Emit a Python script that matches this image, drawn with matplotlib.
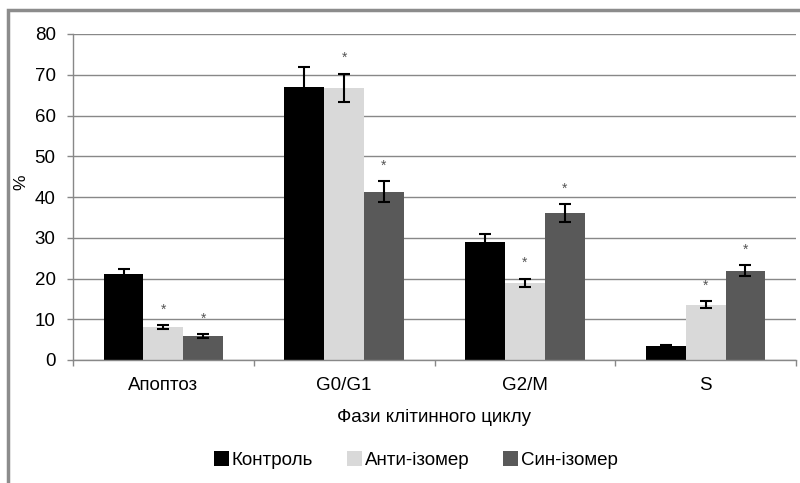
import numpy as np
import matplotlib.pyplot as plt
from matplotlib.patches import Patch, Rectangle

plt.rcParams['font.family'] = ['Liberation Sans', 'DejaVu Sans']

categories = ['Апоптоз', 'G0/G1', 'G2/M', 'S']
series_names = ['Контроль', 'Анти-ізомер', 'Син-ізомер']
control = [21.0, 67.1, 28.9, 3.4]
anti = [8.1, 66.8, 19.0, 13.6]
syn = [5.9, 41.3, 36.1, 21.9]
control_err = [1.4, 4.9, 2.0, 0.3]
anti_err = [0.5, 3.5, 1.0, 0.8]
syn_err = [0.5, 2.6, 2.2, 1.35]
# значущі відмінності від контролю
anti_star = [True, True, True, True]
syn_star = [True, True, True, True]

colors = ['#000000', '#d9d9d9', '#595959']
grid_c = '#888888'
fs = 13.5

fig = plt.figure(figsize=(8, 4.83), dpi=100)
ax = fig.add_axes([73/800, 1 - 360/483, (796 - 73)/800, (360 - 34)/483])

x = np.arange(len(categories)) + 0.5
w = 0.22
all_vals = [control, anti, syn]
all_err = [control_err, anti_err, syn_err]
all_star = [None, anti_star, syn_star]

for i in range(3):
    xs = x + (i - 1) * w
    ax.bar(xs, all_vals[i], width=w, color=colors[i], zorder=2)
    ax.errorbar(xs, all_vals[i], yerr=all_err[i], fmt='none', ecolor='black',
                elinewidth=1.5, capsize=4, capthick=1.5, zorder=3)
    if all_star[i] is not None:
        for j in range(len(categories)):
            if all_star[i][j]:
                ax.annotate('*', (xs[j], all_vals[i][j] + all_err[i][j]),
                            xytext=(0, 6), textcoords='offset points',
                            ha='center', va='bottom', fontsize=10, color='#555555')

ax.set_xlim(0, 4)
ax.set_ylim(0, 80)
ax.set_yticks(range(0, 81, 10))
ax.yaxis.grid(True, color=grid_c, linewidth=1)
ax.set_axisbelow(True)
ax.set_xticks(range(0, 5))
ax.set_xticklabels([])
ax.set_xticks(x, minor=True)
ax.set_xticklabels(categories, minor=True)
ax.tick_params(axis='x', which='minor', length=0, labelsize=fs, pad=12)
ax.tick_params(axis='x', which='major', length=4.5, color=grid_c, width=1)
ax.tick_params(axis='y', length=4.5, color=grid_c, width=1, labelsize=fs, pad=8)
for s in ['top', 'right']:
    ax.spines[s].set_visible(False)
for s in ['left', 'bottom']:
    ax.spines[s].set_color(grid_c)
    ax.spines[s].set_linewidth(1)

fig.text(21/800, 1 - 182/483, '%', rotation=90, fontsize=fs - 1, ha='center', va='center')
fig.text(434/800, 1 - 417/483, 'Фази клітинного циклу', fontsize=fs, ha='center', va='center')

handles = [Patch(facecolor=c, edgecolor='none') for c in colors]
fig.legend(handles, series_names, loc='center', bbox_to_anchor=(416/800, 1 - 460/483),
           ncol=3, frameon=False, fontsize=fs, handlelength=0.8, handleheight=0.8,
           handletextpad=0.15, columnspacing=1.8)

fig.patches.append(Rectangle((8/800, -0.1), 1.5, 1.1 - 10/483,
                             transform=fig.transFigure, fill=False,
                             edgecolor='#8c8c8c', linewidth=2.5))

fig.savefig('out.png', dpi=100)
